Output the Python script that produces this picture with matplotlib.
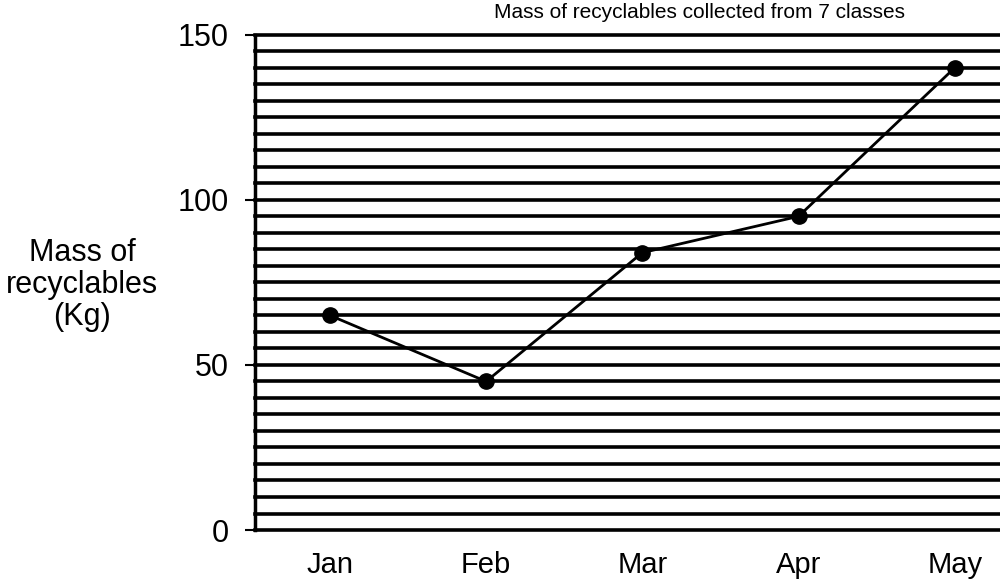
import matplotlib.pyplot as plt
import numpy as np

months = ["Jan", "Feb", "Mar", "Apr", "May"]
mass_kg = [65, 45, 84, 95, 140]
y_ticks = [0, 50, 100, 150]
grid_step = 5

plt.rcParams['font.family'] = ['Liberation Sans', 'DejaVu Sans']

fig = plt.figure(figsize=(10, 5.82), dpi=100)
ax = fig.add_axes([0.255, 0.0893, 0.77, 0.851])

x = np.arange(len(months))

# ruled background, one line every 5 kg
for level in np.arange(0, 150 + grid_step, grid_step):
    ax.axhline(level, color='black', linewidth=2.6, zorder=1, clip_on=False)

ax.plot(x, mass_kg, color='black', linewidth=2.0, marker='o', markersize=11, zorder=3)

ax.set_xlim(-0.48, 4.45)
ax.set_ylim(0, 150)

ax.set_yticks(y_ticks)
ax.tick_params(axis='y', length=7, width=1.5, labelsize=22, pad=12)
ax.set_xticks(x)
ax.set_xticklabels(months)
ax.tick_params(axis='x', length=0, labelsize=21, pad=15)

for side in ['top', 'right', 'bottom']:
    ax.spines[side].set_visible(False)
ax.spines['left'].set_linewidth(2.5)

fig.text(0.082, 0.51, "Mass of\nrecyclables\n(Kg)", ha='center', va='center',
         fontsize=22, linespacing=1.1)

fig.text(0.905, 0.995, "Mass of recyclables collected from 7 classes", ha='right', va='top',
         fontsize=15)

fig.savefig("out.png", dpi=100)
